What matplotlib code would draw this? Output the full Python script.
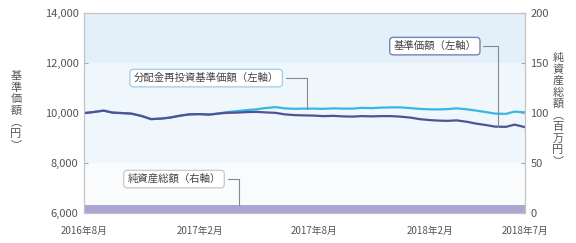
import matplotlib
matplotlib.use("Agg")
import matplotlib.pyplot as plt
import pandas as pd

plt.rcParams['font.family'] = ['Noto Sans CJK JP', 'DejaVu Sans']

# half-month points, 2016-08 .. 2018-07
dates = pd.date_range("2016-08-01", periods=47, freq="SMS")
nav = [10000, 10040, 10100, 10020, 10000, 9980, 9880, 9760, 9780, 9820,
       9900, 9950, 9960, 9940, 9980, 10010, 10020, 10040, 10050, 10030,
       10010, 9950, 9920, 9910, 9900, 9880, 9890, 9870, 9860, 9880,
       9870, 9880, 9880, 9860, 9820, 9760, 9720, 9700, 9690, 9710,
       9650, 9580, 9520, 9460, 9450, 9540, 9440]
nav_reinv = [10000, 10040, 10100, 10020, 10000, 9980, 9880, 9760, 9780, 9820,
             9900, 9950, 9960, 9940, 9980, 10040, 10080, 10120, 10150, 10200,
             10240, 10190, 10170, 10180, 10180, 10170, 10190, 10180, 10180, 10210,
             10200, 10220, 10230, 10230, 10200, 10170, 10150, 10150, 10160, 10190,
             10150, 10100, 10040, 9980, 9970, 10060, 10030]
net_assets = [8.0] * 47

xtick_dates = pd.to_datetime(["2016-08-01", "2017-02-01", "2017-08-01", "2018-02-01", "2018-07-01"])
xtick_labels = ["2016年8月", "2017年2月", "2017年8月", "2018年2月", "2018年7月"]
left_label = "基準価額︵円︶"
right_label = "純資産総額︵百万円︶"

W, H = 576, 243
fig = plt.figure(figsize=(W / 100, H / 100), dpi=100)
ax = fig.add_axes([0.146, 0.123, 0.765, 0.823])
ax2 = ax.twinx()

ax.axhspan(12000, 14000, color="#e3eff9", zorder=0)
ax.axhspan(8000, 12000, color="#eff6fc", zorder=0)
ax.axhspan(6000, 8000, color="#fafbfd", zorder=0)

ax.plot(dates, nav_reinv, color="#36b8e2", lw=1.6, zorder=3)
ax.plot(dates, nav, color="#4f5393", lw=1.6, zorder=4)
ax2.fill_between(dates, 0, net_assets, color="#aaa6d4", lw=0)

ax.set_xlim(dates[0], pd.Timestamp("2018-07-01"))
ax.set_ylim(6000, 14000)
ax2.set_ylim(0, 200)
ax.set_yticks([6000, 8000, 10000, 12000, 14000])
ax.set_yticklabels(["6,000", "8,000", "10,000", "12,000", "14,000"])
ax2.set_yticks([0, 50, 100, 150, 200])
ax.set_xticks(xtick_dates)
ax.set_xticklabels(xtick_labels)

for a in (ax, ax2):
    for s in a.spines.values():
        s.set_color("#c4c4c4")
        s.set_linewidth(0.8)
    a.tick_params(direction="in", length=3, color="#aaaaaa", labelsize=8, labelcolor="#555555", pad=4)
ax.tick_params(axis="x", labelsize=7, pad=9)

# vertical axis titles, one character per row
step = 11.5
for i, ch in enumerate(left_label):
    fig.text(16 / W, 1 - (76 + i * step) / H, ch, ha="center", va="center",
             fontsize=8, color="#555555")
for i, ch in enumerate(right_label):
    fig.text(558 / W, 1 - (58 + i * step) / H, ch, ha="center", va="center",
             fontsize=8, color="#555555")

lead = dict(arrowstyle="-", color="#888888", lw=0.8,
            connectionstyle="angle,angleA=0,angleB=90,rad=0", shrinkB=0)
ax.annotate("分配金再投資基準価額（左軸）", xy=(pd.Timestamp("2017-07-20"), 10180),
            xytext=(0.277, 0.675), textcoords="axes fraction", ha="center", va="center",
            fontsize=7.5, color="#444444", zorder=6,
            bbox=dict(boxstyle="round,pad=0.35", fc="white", ec="#a8cfe8", lw=1),
            arrowprops=lead)
ax.annotate("基準価額（左軸）", xy=(pd.Timestamp("2018-05-20"), 9460),
            xytext=(0.796, 0.835), textcoords="axes fraction", ha="center", va="center",
            fontsize=7.5, color="#444444", zorder=6,
            bbox=dict(boxstyle="round,pad=0.35", fc="white", ec="#7b80b8", lw=1),
            arrowprops=lead)
ax2.annotate("純資産総額（右軸）", xy=(pd.Timestamp("2017-04-03"), 8),
             xytext=(0.204, 0.17), textcoords="axes fraction", ha="center", va="center",
             fontsize=7.5, color="#444444", zorder=6,
             bbox=dict(boxstyle="round,pad=0.35", fc="white", ec="#cccccc", lw=1),
             arrowprops=lead)

fig.savefig("out.png", dpi=100)
